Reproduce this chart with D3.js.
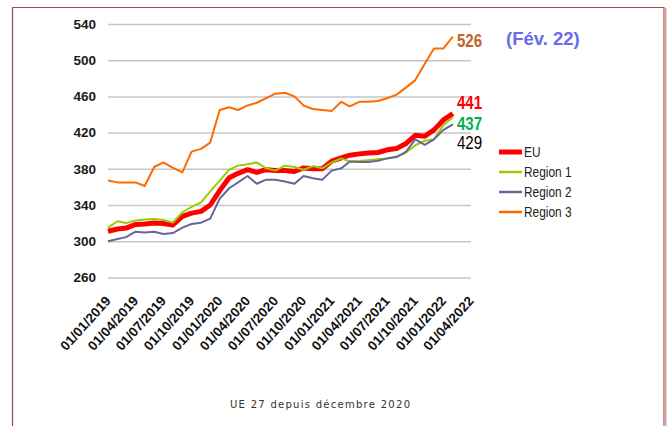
<!DOCTYPE html>
<html>
<head>
<meta charset="utf-8">
<script src="https://cdn.jsdelivr.net/npm/d3@7"></script>
<style>
  body { margin: 0; background: #fff; }
  svg { display: block; }
</style>
</head>
<body>
<div class="price_chart"></div>
<script>
// monthly observations, Jan 2019 -> Feb 2022
const months = [
    "01/01/2019", "01/02/2019", "01/03/2019", "01/04/2019", "01/05/2019", "01/06/2019",
    "01/07/2019", "01/08/2019", "01/09/2019", "01/10/2019", "01/11/2019", "01/12/2019",
    "01/01/2020", "01/02/2020", "01/03/2020", "01/04/2020", "01/05/2020", "01/06/2020",
    "01/07/2020", "01/08/2020", "01/09/2020", "01/10/2020", "01/11/2020", "01/12/2020",
    "01/01/2021", "01/02/2021", "01/03/2021", "01/04/2021", "01/05/2021", "01/06/2021",
    "01/07/2021", "01/08/2021", "01/09/2021", "01/10/2021", "01/11/2021", "01/12/2021",
    "01/01/2022", "01/02/2022"
];

const euValues = [311, 313.5, 314.5, 318.5, 319, 320, 319.5, 318, 327.5, 331, 333, 340,
    356, 370, 375, 379, 376, 379, 378, 378, 377, 381, 380, 380,
    388.5, 392, 395, 396.5, 397.5, 398, 401, 402.5, 408, 417, 416, 423, 434, 441];

const region1Values = [315, 322, 320, 323, 324, 324.5, 323.5, 320.5, 332, 338, 343, 355,
    367, 379, 383.5, 385, 387, 380.5, 378, 383.5, 382, 379, 383, 380.5,
    387, 391.5, 388, 388.5, 389.5, 390.5, 391.5, 393.5, 398, 406, 411, 412.5, 428.5, 437];

const region2Values = [300, 302.5, 304.5, 310.5, 309.5, 310.5, 308, 309, 315, 319, 320.5, 325,
    347, 358.5, 365, 372, 363.5, 368, 368, 366, 363.5, 372, 369.5, 368,
    378, 380.5, 388, 387.5, 387.5, 389, 391.5, 393, 399, 412.5, 406.5, 412.5, 423, 429];

const region3Values = [367, 365, 365, 365, 361, 382, 387, 381, 376, 399, 402, 409,
    445, 448, 445, 450, 453, 458, 463, 464, 460, 450, 446, 445,
    444, 454, 449, 454, 454, 455, 458, 462, 470, 478, 496, 513, 513, 526];

const seriesNames = ["EU", "Region 1", "Region 2", "Region 3"];
const yTicks = [260, 300, 340, 380, 420, 460, 500, 540];
const xTickLabels = [
    "01/01/2019", "01/04/2019", "01/07/2019", "01/10/2019",
    "01/01/2020", "01/04/2020", "01/07/2020", "01/10/2020",
    "01/01/2021", "01/04/2021", "01/07/2021", "01/10/2021",
    "01/01/2022", "01/04/2022"
];
const periodLabel = "(Fév. 22)";
const footnote = "UE 27 depuis décembre 2020";

const width = 668;
const height = 426;
const margin = { top: 24, left: 108, right: 197, bottom: 148.6 };

const parseDate = d3.timeParse("%d/%m/%Y");
const dates = months.map(parseDate);
const tickDates = xTickLabels.map(parseDate);

const series = [
    { name: seriesNames[0], values: euValues, color: "#ff0000", width: 5, label: "#ff0000", weight: "bold", dy: -4.5 },
    { name: seriesNames[1], values: region1Values, color: "#99cc00", width: 2, label: "#00b050", weight: "bold", dy: 12.7 },
    { name: seriesNames[2], values: region2Values, color: "#66669a", width: 2, label: "#000000", weight: "normal", dy: 25 },
    { name: seriesNames[3], values: region3Values, color: "#ff6a00", width: 2, label: "#c0642c", weight: "bold", dy: 10 }
];

const xScale = d3.scaleTime()
    .domain([tickDates[0], tickDates[tickDates.length - 1]])
    .range([margin.left, width - margin.right]);

const yScale = d3.scaleLinear()
    .domain([260, 540])
    .range([height - margin.bottom, margin.top]);

const svg = d3.select(".price_chart")
    .append("svg")
    .attr("width", width)
    .attr("height", height);

// outer frame (bottom edge falls outside the picture)
svg.append("path")
    .attr("d", `M12.5,${height + 5} V7.5 H664 V${height + 5}`)
    .attr("fill", "none")
    .attr("stroke", "#9a4c4c")
    .attr("stroke-width", 1.2);
svg.append("line")
    .attr("x1", 665.5).attr("x2", 665.5)
    .attr("y1", 8).attr("y2", height)
    .attr("stroke", "#d8a8a8")
    .attr("stroke-width", 2);

// y axis + gridlines
const yAxis = svg.append("g")
    .attr("transform", `translate(${margin.left},0)`)
    .call(d3.axisLeft(yScale)
        .tickValues(yTicks)
        .tickSize(-(width - margin.right - margin.left))
        .tickPadding(12));
yAxis.select(".domain").remove();
yAxis.selectAll(".tick line")
    .attr("stroke", "#c6c6c6")
    .attr("stroke-width", 1.5);
yAxis.selectAll("text")
    .attr("fill", "#1a1a1a")
    .style("font-family", "Arial, 'Liberation Sans', sans-serif")
    .style("font-size", "13.5px")
    .style("font-weight", "bold");

// x axis, rotated date labels
const xAxis = svg.append("g")
    .attr("transform", `translate(0,${height - margin.bottom})`)
    .call(d3.axisBottom(xScale)
        .tickValues(tickDates)
        .tickFormat(d3.timeFormat("%d/%m/%Y"))
        .tickSize(0));
xAxis.select(".domain").remove();
xAxis.selectAll("text")
    .attr("x", 0)
    .attr("y", 0)
    .attr("dy", 0)
    .attr("transform", "translate(3,24) rotate(-48)")
    .style("text-anchor", "end")
    .attr("fill", "#111")
    .style("font-family", "Arial, 'Liberation Sans', sans-serif")
    .style("font-size", "13.5px")
    .style("font-weight", "bold");

const line = d3.line()
    .x((d, i) => xScale(dates[i]))
    .y(d => yScale(d));

svg.selectAll(".series")
    .data(series)
    .enter()
    .append("path")
    .attr("class", "series")
    .attr("d", d => line(d.values))
    .attr("fill", "none")
    .attr("stroke", d => d.color)
    .attr("stroke-width", d => d.width)
    .attr("stroke-linejoin", "round");

// end-of-series value labels
const lastX = xScale(dates[dates.length - 1]);
svg.selectAll(".end-label")
    .data(series)
    .enter()
    .append("text")
    .attr("class", "end-label")
    .attr("transform", d => `translate(${lastX + 4},${yScale(d.values[d.values.length - 1]) + d.dy}) scale(0.84,1)`)
    .attr("fill", d => d.label)
    .style("font-family", "Arial, 'Liberation Sans', sans-serif")
    .style("font-size", "18px")
    .style("font-weight", d => d.weight)
    .text(d => d3.format(".0f")(d.values[d.values.length - 1]));

svg.append("text")
    .attr("x", 506)
    .attr("y", 45)
    .attr("fill", "#6a6af0")
    .style("font-family", "Arial, 'Liberation Sans', sans-serif")
    .style("font-size", "18.5px")
    .style("font-weight", "bold")
    .text(periodLabel);

// legend
const legend = svg.selectAll(".legend")
    .data(series)
    .enter()
    .append("g")
    .attr("class", "legend")
    .attr("transform", (d, i) => `translate(499,${152 + i * 20})`);

legend.append("line")
    .attr("x1", 0)
    .attr("x2", 23)
    .attr("stroke", d => d.color)
    .attr("stroke-width", d => d.width === 5 ? 5 : 2.5);

legend.append("text")
    .attr("transform", "translate(25,5) scale(0.82,1)")
    .attr("fill", "#222")
    .style("font-family", "Arial, 'Liberation Sans', sans-serif")
    .style("font-size", "14.5px")
    .text(d => d.name);

svg.append("text")
    .attr("x", 230)
    .attr("y", 408)
    .attr("textLength", 180)
    .attr("lengthAdjust", "spacing")
    .attr("fill", "#333")
    .style("font-family", "'DejaVu Sans', sans-serif")
    .style("font-size", "10px")
    .text(footnote);
</script>
</body>
</html>
